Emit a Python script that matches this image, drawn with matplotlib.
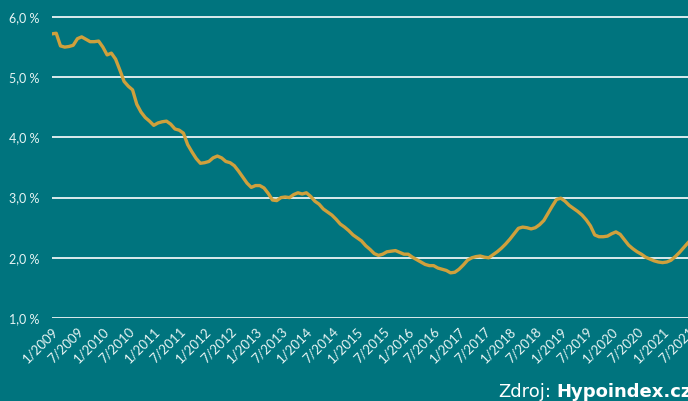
import numpy as np
import matplotlib
matplotlib.use('Agg')
import matplotlib.pyplot as plt

# average mortgage rate (Hypoindex), monthly 1/2009 - 7/2021, in %
r2009 = [5.72, 5.73, 5.52, 5.50, 5.51, 5.53, 5.64, 5.67, 5.63, 5.59, 5.59, 5.60]
r2010 = [5.50, 5.37, 5.40, 5.30, 5.12, 4.93, 4.85, 4.79, 4.55, 4.42, 4.33, 4.27]
r2011 = [4.20, 4.24, 4.26, 4.27, 4.22, 4.14, 4.12, 4.07, 3.88, 3.76, 3.65, 3.57]
r2012 = [3.58, 3.60, 3.66, 3.69, 3.66, 3.60, 3.58, 3.53, 3.44, 3.34, 3.24, 3.17]
r2013 = [3.20, 3.20, 3.16, 3.07, 2.96, 2.95, 3.00, 3.01, 3.00, 3.05, 3.08, 3.06]
r2014 = [3.08, 3.02, 2.94, 2.89, 2.81, 2.76, 2.71, 2.64, 2.56, 2.51, 2.45, 2.38]
r2015 = [2.33, 2.28, 2.20, 2.14, 2.07, 2.04, 2.06, 2.10, 2.11, 2.12, 2.09, 2.06]
r2016 = [2.06, 2.01, 1.97, 1.93, 1.89, 1.87, 1.87, 1.83, 1.81, 1.79, 1.75, 1.76]
r2017 = [1.81, 1.88, 1.96, 2.00, 2.02, 2.03, 2.01, 2.00, 2.05, 2.10, 2.16, 2.23]
r2018 = [2.31, 2.40, 2.49, 2.51, 2.50, 2.48, 2.50, 2.55, 2.62, 2.74, 2.86, 2.97]
r2019 = [2.99, 2.94, 2.87, 2.82, 2.77, 2.71, 2.63, 2.53, 2.38, 2.35, 2.35, 2.36]
r2020 = [2.40, 2.43, 2.39, 2.30, 2.21, 2.15, 2.10, 2.06, 2.01, 1.98, 1.95, 1.93]
r2021 = [1.92, 1.93, 1.96, 2.02, 2.09, 2.17, 2.25]

rates = r2009 + r2010 + r2011 + r2012 + r2013 + r2014 + r2015 + r2016 \
    + r2017 + r2018 + r2019 + r2020 + r2021

years = list(range(2009, 2022))
xlabels = []
for y in years:
    xlabels.append('1/' + str(y))
    xlabels.append('7/' + str(y))

yticks = [1, 2, 3, 4, 5, 6]

bg = '#00747e'
gold = '#cfa03c'

plt.rcParams['font.family'] = ['Lato', 'DejaVu Sans']

fig = plt.figure(figsize=(6.88, 4.01), dpi=100, facecolor=bg)
ax = fig.add_axes([52 / 688, 1 - 318 / 401, 1 - 52 / 688, 318 / 401])
ax.set_facecolor(bg)

x = np.arange(len(rates))
ax.plot(x, rates, color=gold, lw=2.4, solid_joinstyle='round', zorder=3)

ax.set_xlim(0, len(rates) - 1)
ax.set_ylim(1.0, 6.0 + 17 / 60.2)

ax.set_yticks(yticks)
ax.set_yticklabels([('%.1f %%' % v).replace('.', ',') for v in yticks],
                   color='#e8f4f4', fontsize=9)
ax.set_xticks(np.arange(0, len(rates), 6))
ax.set_xticklabels(xlabels, rotation=45, ha='right', va='top',
                   rotation_mode='anchor', color='#e8f4f4', fontsize=9.5)
ax.tick_params(length=0, pad=9, axis='y')
ax.tick_params(length=0, pad=5, axis='x')

for v in yticks:
    ax.axhline(v, color='white', lw=1.2, zorder=1)

for s in ax.spines.values():
    s.set_visible(False)

t1 = fig.text(498 / 688, 1 - 397 / 401, 'Zdroj:', color='white', fontsize=13,
              family='DejaVu Sans', ha='left', va='baseline')
ax.annotate('Hypoindex.cz', xy=(1, 0), xycoords=t1, xytext=(4, 0),
            textcoords='offset points', color='white', fontsize=13,
            family='DejaVu Sans', fontweight='bold', ha='left', va='bottom',
            annotation_clip=False)

fig.savefig('out.png', dpi=100, facecolor=bg)
